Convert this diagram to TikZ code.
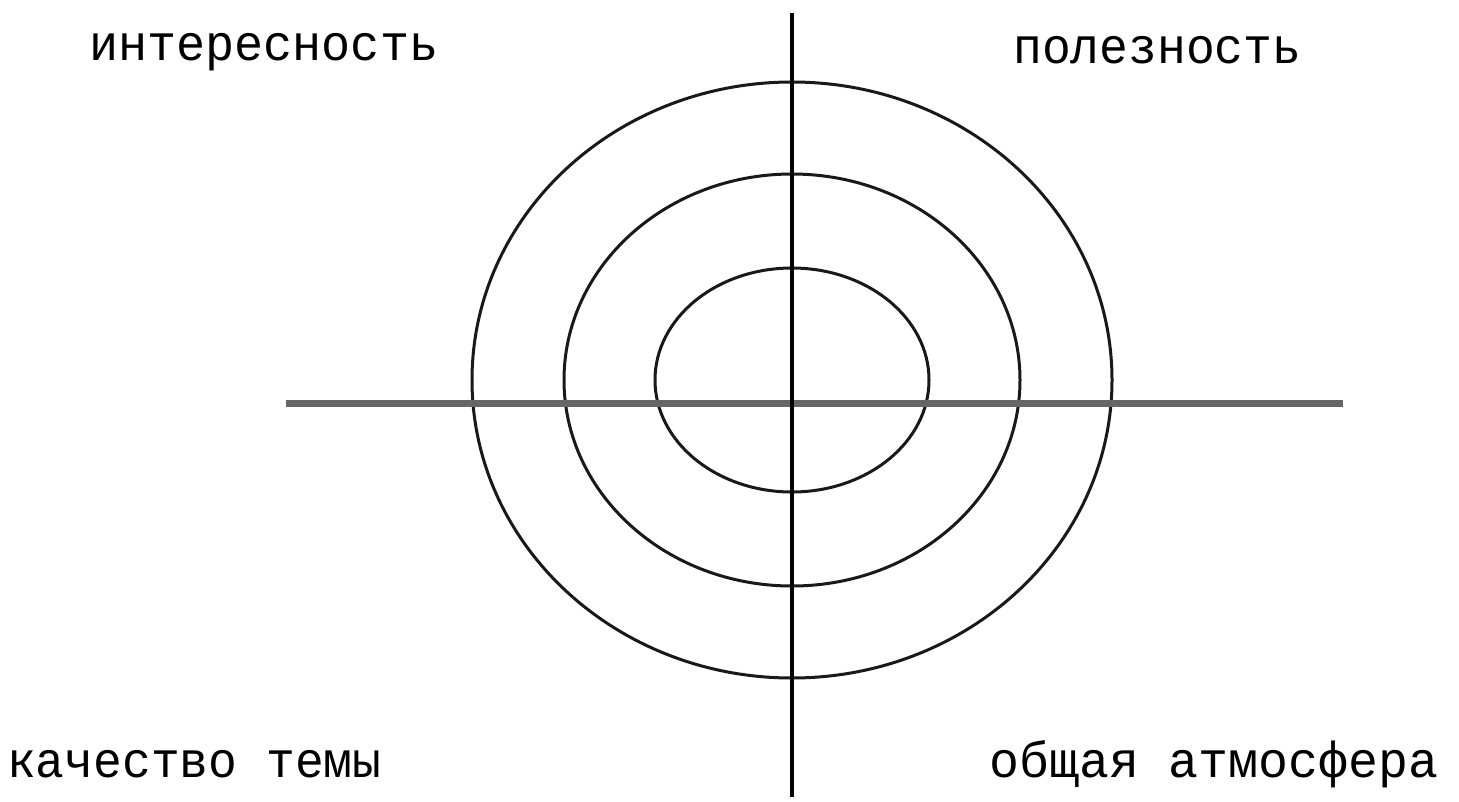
\documentclass[tikz,border=0pt]{standalone}
\usepackage{fontspec}
\setmainfont{Liberation Mono}
\begin{document}
\begin{tikzpicture}[x=1pt,y=-1pt,
  lbl/.style={inner sep=0pt,anchor=base west,font=\fontsize{48}{48}\selectfont},
  ring/.style={draw=black!90,line width=3pt},
  haxis/.style={draw=black!60,line width=6.5pt},
  vaxis/.style={draw=black,line width=4pt}]
\useasboundingbox[fill=white] (0,0) rectangle (1459,801);
\coordinate (c) at (792,380);
\draw[ring] (c) ellipse [x radius=320pt,y radius=298pt];
\draw[ring] (c) ellipse [x radius=228pt,y radius=206pt];
\draw[ring] (c) ellipse [x radius=137pt,y radius=112pt];
\coordinate (hl) at (286,403.5);
\coordinate (hr) at (1343,403.5);
\coordinate (vt) at (792,13);
\coordinate (vb) at (792,797);
\draw[haxis] (hl) -- (hr);
\draw[vaxis] (vt) -- (vb);
\node[lbl] (tl) at (89,60) {\scalebox{1.01}[1.05]{интересность}};
\node[lbl] (tr) at (1013,63) {\scalebox{1}[1.05]{полезность}};
\node[lbl] (bl) at (7,777) {\scalebox{1}[1.05]{качество темы}};
\node[lbl] (br) at (989,777) {\scalebox{1.04}[1.05]{общая атмосфера}};
\end{tikzpicture}
\end{document}
